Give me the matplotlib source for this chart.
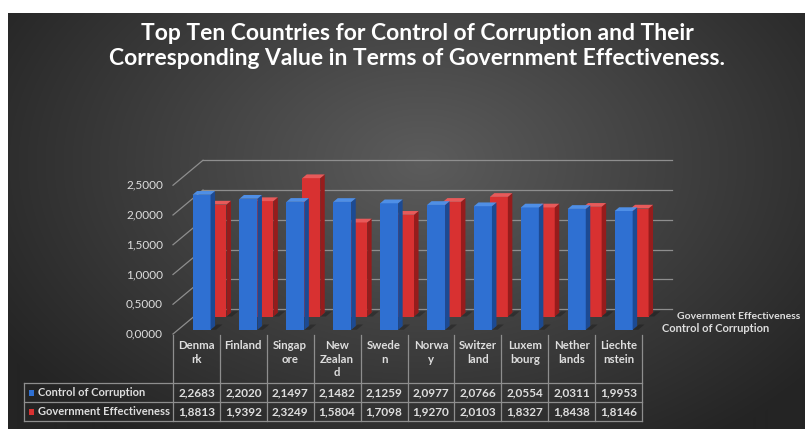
import numpy as np
import matplotlib
matplotlib.use("Agg")
import matplotlib.pyplot as plt
from matplotlib.patches import Polygon, Rectangle
from matplotlib.lines import Line2D
from matplotlib import font_manager

# ---- data -------------------------------------------------------------
countries = ["Denmark", "Finland", "Singapore", "New Zealand", "Sweden",
             "Norway", "Switzerland", "Luxembourg", "Netherlands", "Liechtenstein"]
header_labels = ["Denma\nrk", "Finland", "Singap\nore", "New\nZealan\nd", "Swede\nn",
                 "Norwa\ny", "Switzer\nland", "Luxem\nbourg", "Nether\nlands", "Liechte\nnstein"]
corruption = [2.2683, 2.2020, 2.1497, 2.1482, 2.1259, 2.0977, 2.0766, 2.0554, 2.0311, 1.9953]
effectiveness = [1.8813, 1.9392, 2.3249, 1.5804, 1.7098, 1.9270, 2.0103, 1.8327, 1.8438, 1.8146]
series_names = ["Control of Corruption", "Government Effectiveness"]
y_ticks = [0.0, 0.5, 1.0, 1.5, 2.0, 2.5]
title = ("Top Ten Countries for Control of Corruption and Their\n"
         "Corresponding Value in Terms of Government Effectiveness.")

# ---- fonts ------------------------------------------------------------
entries = font_manager.fontManager.ttflist
regular_names = {f.name for f in entries}
bold_names = {f.name for f in entries
              if (isinstance(f.weight, int) and f.weight >= 600)
              or str(f.weight).lower() in ("bold", "semibold", "demibold", "heavy", "black")}


def pick(pool, *names):
    for nm in names:
        if nm in pool:
            return nm
    return "DejaVu Sans"


FONT = pick(regular_names, "Liberation Sans Narrow", "Lato", "Open Sans", "Roboto")
BFONT = pick(bold_names, "Liberation Sans Narrow", "Lato", "Open Sans", "Roboto", "Noto Sans")
plt.rcParams["font.family"] = [FONT, "DejaVu Sans"]
BOLD = dict(family=[BFONT, "DejaVu Sans"], fontweight="bold")

# ---- layout (pixels) --------------------------------------------------
W, H = 805, 429
PX0 = 173.0      # left edge of the front floor / first table column
COLW = 46.9      # width of one category column
PY0 = 334.0      # front floor baseline
PPU = 59.5       # pixels per value unit
DEPTH = (30.0, 25.0)  # oblique offset of the full chart depth

TXT = "#dedede"
GRID = "#8e8e8e"

fig = plt.figure(figsize=(W / 100, H / 100), dpi=100)
fig.patch.set_facecolor("white")

# dark radial background panel
bg = fig.add_axes([8 / W, 0, (W - 8) / W, (H - 13) / H])
ny, nx = 416, 797
yy, xx = np.mgrid[0:1:ny * 1j, 0:1:nx * 1j]
r = np.sqrt(((xx - 0.52) / 0.62) ** 2 + ((yy - 0.36) / 0.8) ** 2)
val = np.clip(92 - 55 * r, 36, 95) / 255.0
bg.imshow(np.dstack([val, val, val]), aspect="auto", extent=(0, 1, 0, 1),
          interpolation="bilinear")
bg.axis("off")

# chart axes: x in category units, y in value units (front plane)
ax = fig.add_axes([0, 0, 1, 1], zorder=2)
ax.set_xlim(-0.5 - PX0 / COLW, -0.5 + (W - PX0) / COLW)
ax.set_ylim((PY0 - H) / PPU, PY0 / PPU)
ax.axis("off")
ax.patch.set_alpha(0)

DX = DEPTH[0] / COLW
DY = DEPTH[1] / PPU
n = len(countries)
xs = np.arange(n)


def proj(x, v, d):
    return x + DX * d, v + DY * d


# back wall gridlines and left wall diagonals
for t in y_ticks:
    a = proj(-0.5, t, 1.0)
    b = proj(n - 0.5, t, 1.0)
    ax.plot([a[0], b[0]], [a[1], b[1]], color=GRID, lw=0.9, zorder=1)
    c = proj(-0.5, t, 0.0)
    ax.plot([c[0], a[0]], [c[1], a[1]], color=GRID, lw=0.9, zorder=1)
    ax.text(c[0] - 10 / COLW, t, f"{t:.4f}".replace(".", ","), ha="right",
            va="center", color=TXT, fontsize=8.5)


def draw_series(values, d_front, thick, width, front, side, top, z):
    d_back = d_front + thick
    ax.bar(xs + DX * d_front, values, width=width, bottom=DY * d_front,
           color=front, edgecolor="none", zorder=z)
    for x, v in zip(xs, values):
        l, rgt = x - width / 2, x + width / 2
        # floor shadow
        sh = [proj(rgt, 0, d_front), proj(rgt + 0.12, 0, d_front),
              proj(rgt + 0.12, 0, d_back + 0.06), proj(rgt, 0, d_back + 0.06)]
        ax.add_patch(Polygon(sh, closed=True, fc="black", ec="none",
                             alpha=0.25, zorder=z - 0.5))
        sd = [proj(rgt, 0, d_front), proj(rgt, 0, d_back),
              proj(rgt, v, d_back), proj(rgt, v, d_front)]
        ax.add_patch(Polygon(sd, closed=True, fc=side, ec="none", zorder=z))
        tp = [proj(l, v, d_front), proj(rgt, v, d_front),
              proj(rgt, v, d_back), proj(l, v, d_back)]
        ax.add_patch(Polygon(tp, closed=True, fc=top, ec="none", zorder=z))


BAR_W = 18 / COLW
draw_series(effectiveness, 0.70, 0.15, BAR_W, "#d83131", "#961c1c", "#e85a5a", 3)
draw_series(corruption, 0.17, 0.15, BAR_W, "#2f70d2", "#1c4a93", "#4f8fe6", 5)

# depth axis labels
for name, d, dx, fs in [(series_names[1], 0.75, 12, 7.5),
                        (series_names[0], 0.24, 13, 8)]:
    p = proj(n - 0.5, 0, d)
    ax.annotate(name, xy=p, xytext=(dx, -1), textcoords="offset pixels",
                ha="left", va="center", color=TXT, fontsize=fs,
                annotation_clip=False, **BOLD)


# ---- data table -------------------------------------------------------
def fx(px):
    return px / W


def fy(py):
    return 1 - py / H


def fline(x0, y0, x1, y1):
    fig.add_artist(Line2D([fx(x0), fx(x1)], [fy(y0), fy(y1)],
                          transform=fig.transFigure, color=GRID, lw=0.9))


HEAD_TOP, ROW1, ROW2, ROW3 = 335, 383, 402, 421
TAB_LEFT = 24
right = PX0 + COLW * n
for k in range(n + 1):
    xk = PX0 + COLW * k
    fline(xk, HEAD_TOP, xk, ROW3)
for yk in (ROW1, ROW2, ROW3):
    fline(TAB_LEFT, yk, right, yk)
fline(TAB_LEFT, ROW1, TAB_LEFT, ROW3)

for k, lab in enumerate(header_labels):
    cx = PX0 + COLW * (k + 0.5)
    fig.text(fx(cx), fy(340), lab, ha="center", va="top", color=TXT,
             fontsize=8.2, linespacing=1.3, **BOLD)

rows = [(corruption, ROW1, ROW2, "#2f70d2"), (effectiveness, ROW2, ROW3, "#d83131")]
for (vals, y0, y1, col), name in zip(rows, series_names):
    yc = (y0 + y1) / 2
    fig.add_artist(Rectangle((fx(29), fy(yc + 3)), 5 / W, 6 / H,
                             transform=fig.transFigure, fc=col, ec="none"))
    fig.text(fx(38), fy(yc), name, ha="left", va="center", color=TXT,
             fontsize=8, **BOLD)
    for k, v in enumerate(vals):
        cx = PX0 + COLW * (k + 0.5)
        fig.text(fx(cx), fy(yc), f"{v:.4f}".replace(".", ","), ha="center",
                 va="center", color=TXT, fontsize=8.5, **BOLD)

# ---- title ------------------------------------------------------------
fig.text(fx(417), fy(46), title, ha="center", va="center", color="white",
         fontsize=16.5, linespacing=1.25, **BOLD)

fig.savefig("out.png", dpi=100, facecolor=fig.get_facecolor())
